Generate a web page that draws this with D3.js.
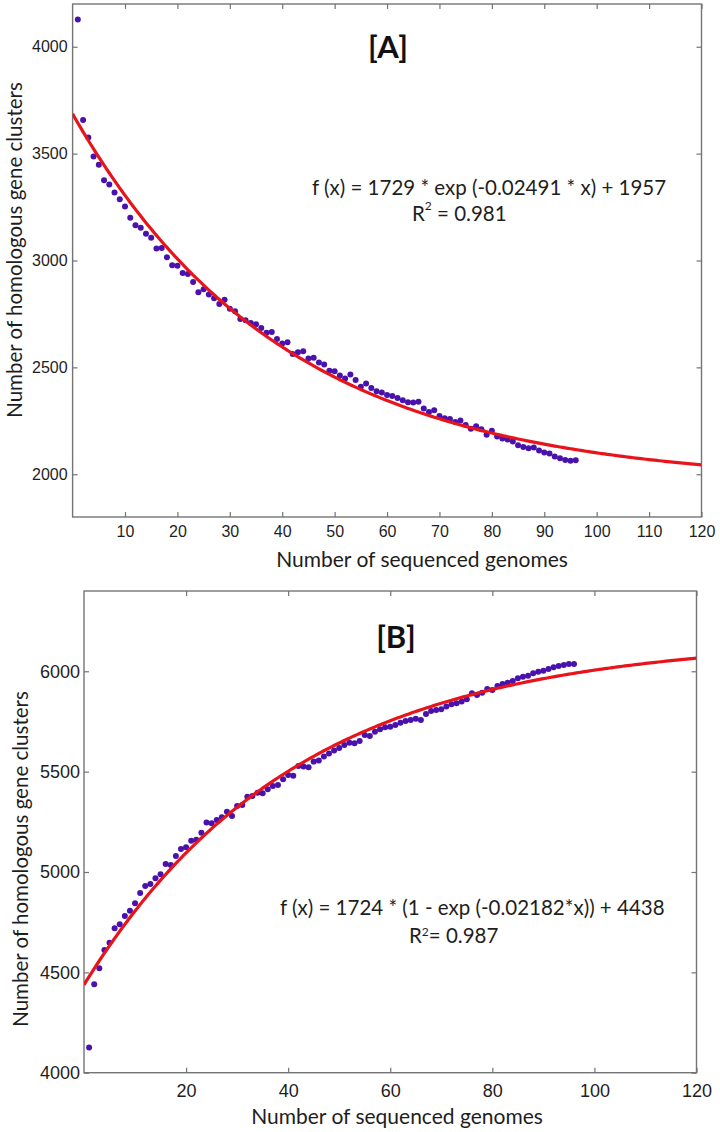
<!DOCTYPE html>
<html>
<head>
<meta charset="utf-8">
<script src="https://cdn.jsdelivr.net/npm/d3@7"></script>
<style>
  body { margin: 0; background: #fff; }
  svg { display: block; }
</style>
</head>
<body>
<div id="chart"></div>
<script>
// genome index 1..96
const genomes = d3.range(1, 97);

// [A] core gene clusters
const coreValues = [
  4128, 3657, 3576, 3486, 3448, 3376, 3355, 3318, 3287, 3253,
  3200, 3165, 3153, 3125, 3106, 3056, 3059, 3015, 2978, 2975,
  2941, 2937, 2900, 2852, 2865, 2841, 2823, 2797, 2816, 2774,
  2763, 2726, 2721, 2708, 2702, 2684, 2662, 2665, 2633, 2612,
  2617, 2562, 2571, 2576, 2542, 2545, 2523, 2514, 2484, 2482,
  2462, 2448, 2467, 2441, 2409, 2424, 2404, 2388, 2382, 2371,
  2366, 2357, 2346, 2337, 2336, 2339, 2308, 2291, 2300, 2272,
  2262, 2258, 2244, 2252, 2230, 2213, 2224, 2210, 2185, 2203,
  2177, 2167, 2163, 2153, 2136, 2128, 2122, 2125, 2111, 2102,
  2097, 2083, 2075, 2067, 2063, 2065
];

// [B] pan gene clusters
const panValues = [
  4125, 4441, 4520, 4611, 4648, 4720, 4740, 4781, 4807, 4844,
  4895, 4930, 4940, 4969, 4989, 5040, 5035, 5080, 5115, 5123,
  5156, 5161, 5196, 5246, 5243, 5259, 5273, 5300, 5279, 5329,
  5334, 5375, 5379, 5395, 5392, 5412, 5428, 5433, 5462, 5483,
  5480, 5528, 5525, 5522, 5550, 5555, 5575, 5590, 5605, 5618,
  5633, 5644, 5641, 5653, 5683, 5678, 5699, 5711, 5721, 5724,
  5732, 5744, 5752, 5757, 5763, 5757, 5787, 5802, 5807, 5811,
  5824, 5836, 5841, 5849, 5861, 5891, 5882, 5893, 5912, 5907,
  5927, 5937, 5943, 5952, 5965, 5973, 5978, 5990, 5998, 6003,
  6011, 6020, 6026, 6031, 6036, 6036
];

// red fit curves: a, b, c as the curves are drawn in the picture
const coreFit = [1729, 0.02491, 1957];   // a*exp(-b*x)+c
const panFit = [1724, 0.0240, 4438];     // a*(1-exp(-b*x))+c (drawn curve sits a bit above the printed b)

const coreYTicks = [2000, 2500, 3000, 3500, 4000];
const panYTicks = [4000, 4500, 5000, 5500, 6000];
const coreXTicks = [10, 20, 30, 40, 50, 60, 70, 80, 90, 100, 110, 120];
const panXTicks = [20, 40, 60, 80, 100, 120];

const W = 720, H = 1132;
const dotColor = '#4a12ac';
const lineColor = '#e8141c';
const frameColor = '#747474';
const textColor = '#1e1e1e';

const svg = d3.select('#chart').append('svg').attr('width', W).attr('height', H);

function panel(opt) {
  const x = d3.scaleLinear().domain([0, 120]).range([opt.left, opt.right]);
  const y = d3.scaleLinear().domain(opt.yDomain).range([opt.bottom, opt.top]);
  const g = svg.append('g');
  const fmt = d3.format('d');

  // inward ticks on all four sides
  const bottomAxis = d3.axisBottom(x).tickValues(opt.xTicks).tickFormat(fmt).tickSizeInner(-5).tickSizeOuter(0).tickPadding(opt.xPad);
  const topAxis = d3.axisTop(x).tickValues(opt.xTicks).tickSizeInner(-5).tickSizeOuter(0).tickFormat('');
  const leftAxis = d3.axisLeft(y).tickValues(opt.yTicks).tickFormat(fmt).tickSizeInner(-5).tickSizeOuter(0).tickPadding(opt.yPad);
  const rightAxis = d3.axisRight(y).tickValues(opt.yTicks).tickSizeInner(-5).tickSizeOuter(0).tickFormat('');

  [
    [bottomAxis, 'translate(0,' + opt.bottom + ')'],
    [topAxis, 'translate(0,' + opt.top + ')'],
    [leftAxis, 'translate(' + opt.left + ',0)'],
    [rightAxis, 'translate(' + opt.right + ',0)']
  ].forEach(function(a) {
    const ax = g.append('g').attr('transform', a[1]).call(a[0]);
    ax.select('.domain').remove();
    ax.selectAll('line').attr('stroke', frameColor).attr('stroke-width', 1.2);
    ax.selectAll('text')
      .attr('fill', textColor)
      .style('font-family', '"Liberation Sans", Arial, sans-serif')
      .style('font-size', opt.tickFont + 'px');
  });

  g.append('rect')
    .attr('x', opt.left).attr('y', opt.top)
    .attr('width', opt.right - opt.left).attr('height', opt.bottom - opt.top)
    .attr('fill', 'none').attr('stroke', frameColor).attr('stroke-width', 1.4);

  const clipId = 'clip' + opt.name;
  svg.append('clipPath').attr('id', clipId).append('rect')
    .attr('x', opt.left).attr('y', opt.top)
    .attr('width', opt.right - opt.left).attr('height', opt.bottom - opt.top);

  // dots
  g.append('g').selectAll('circle')
    .data(genomes.map((d, i) => ({x: d, y: opt.values[i]})))
    .enter().append('circle')
    .attr('cx', d => x(d.x))
    .attr('cy', d => y(d.y))
    .attr('r', 3)
    .attr('fill', dotColor);

  // fitted curve
  const xs = d3.range(0, 120.5, 0.5);
  const line = d3.line().x(d => x(d)).y(d => y(opt.fit(d)));
  g.append('path')
    .attr('d', line(xs))
    .attr('clip-path', 'url(#' + clipId + ')')
    .attr('fill', 'none')
    .attr('stroke', lineColor)
    .attr('stroke-width', 3.2);

  // axis titles
  g.append('text')
    .attr('x', opt.xTitle[0]).attr('y', opt.xTitle[1])
    .attr('text-anchor', 'middle')
    .attr('fill', textColor)
    .style('font-family', 'Lato, sans-serif')
    .style('font-size', '21px')
    .text('Number of sequenced genomes');

  g.append('text')
    .attr('transform', 'translate(' + opt.yTitle[0] + ',' + opt.yTitle[1] + ') rotate(-90)')
    .attr('text-anchor', 'middle')
    .attr('fill', textColor)
    .style('font-family', 'Lato, sans-serif')
    .style('font-size', '20.5px')
    .text('Number of homologous gene clusters');

  // panel label
  g.append('text')
    .attr('x', opt.label[0]).attr('y', opt.label[1])
    .attr('text-anchor', 'middle')
    .attr('fill', '#111')
    .style('font-family', 'Lato, sans-serif')
    .style('font-weight', 'bold')
    .style('font-size', '31px')
    .text(opt.labelText);

  // equation
  g.append('text')
    .attr('x', opt.eq[0]).attr('y', opt.eq[1])
    .attr('fill', textColor)
    .style('font-family', 'Lato, sans-serif')
    .style('font-size', '20.5px')
    .text(opt.eqText);

  const r2 = g.append('text')
    .attr('x', opt.r2[0]).attr('y', opt.r2[1])
    .attr('fill', textColor)
    .style('font-family', 'Lato, sans-serif')
    .style('font-size', '20.5px');
  r2.append('tspan').text('R');
  r2.append('tspan').attr('dy', opt.supDy).style('font-size', '12px').text('2');
  r2.append('tspan').attr('dy', -opt.supDy).text(opt.r2Text);
}

panel({
  name: 'A',
  left: 72.6, right: 701.5, top: 4, bottom: 517,
  yDomain: [1800, 4200],
  xTicks: coreXTicks, yTicks: coreYTicks,
  xPad: 9, yPad: 5, tickFont: 16,
  values: coreValues,
  fit: x => coreFit[0] * Math.exp(-coreFit[1] * x) + coreFit[2],
  xTitle: [422, 567], yTitle: [22, 250],
  label: [388, 58], labelText: '[A]',
  eq: [312, 195], eqText: 'f (x) = 1729 * exp (-0.02491 * x) + 1957',
  r2: [412, 221], r2Text: ' = 0.981', supDy: -11
});

panel({
  name: 'B',
  left: 84, right: 696.5, top: 591, bottom: 1072.7,
  yDomain: [4000, 6400],
  xTicks: panXTicks, yTicks: panYTicks,
  xPad: 12, yPad: 4, tickFont: 18,
  values: panValues,
  fit: x => panFit[0] * (1 - Math.exp(-panFit[1] * x)) + panFit[2],
  xTitle: [397, 1124], yTitle: [28, 859],
  label: [396, 648], labelText: '[B]',
  eq: [280, 915], eqText: 'f (x) = 1724 * (1 - exp (-0.02182*x)) + 4438',
  r2: [409, 943], r2Text: '= 0.987', supDy: -7
});
</script>
</body>
</html>
